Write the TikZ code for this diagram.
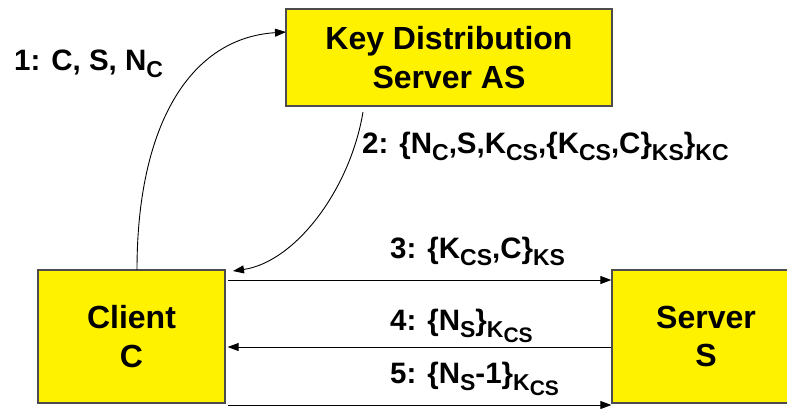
\documentclass[tikz,border=0pt]{standalone}
\usepackage{fontspec}
\setmainfont{Liberation Sans}
\usetikzlibrary{arrows.meta}
\newcommand\sbx[1]{\raisebox{-7pt}{\fontsize{23}{23}\selectfont #1}}
\newcommand\ssbx[1]{\raisebox{-5pt}{\fontsize{21}{21}\selectfont #1}}
\begin{document}
\begin{tikzpicture}[x=1pt,y=-1pt,
  box/.style={draw=black!70,line width=1.3pt,fill=yellow,inner sep=0pt,
    font=\bfseries\fontsize{32}{38.5}\selectfont,align=center},
  lbl/.style={inner sep=0pt,font=\bfseries\fontsize{29.5}{29.5}\selectfont},
  arr/.style={line width=0.9pt,-{Triangle[length=11pt,width=8pt]}}]
\useasboundingbox (0,0) rectangle (787,408);
\node[box,minimum width=326pt,minimum height=97pt] (kds) at (449,57.5) {Key Distribution\\Server AS};
\node[box,minimum width=187pt,minimum height=133pt] (client) at (131.5,336.5) {Client\\C};
\node[box,minimum width=188pt,minimum height=133pt] (server) at (706,336.5) {Server\\S};
\coordinate (y3) at (0,280);
\coordinate (y4) at (0,347);
\coordinate (y5) at (0,405);
\coordinate (c1) at (137,270);
\coordinate (k1) at (286,32);
\coordinate (k2) at (363,112);
\coordinate (c2) at (233,271);
\draw[arr] (c1) .. controls (137,125) and (190,38) .. (k1);
\draw[arr] (k2) .. controls (350,190) and (295,262) .. (c2);
\draw[arr] ([xshift=2pt]client.east |- y3) -- (server.west |- y3);
\draw[arr] (server.west |- y4) -- ([xshift=2pt]client.east |- y4);
\draw[arr] ([xshift=2pt]client.east |- y5) -- (server.west |- y5);
\node[lbl,anchor=base west] (l1) at (14,70) {1: C, S, N\sbx{C}};
\node[lbl,anchor=base west] (l2) at (362,153) {2: \{N\sbx{C},S,K\sbx{CS},\{K\sbx{CS},C\}\sbx{KS}\}\sbx{KC}};
\node[lbl,anchor=base west] (l3) at (390,258) {3: \{K\sbx{CS},C\}\sbx{KS}};
\node[lbl,anchor=base west] (l4) at (390,330) {4: \{N\sbx{S}\}\sbx{K\ssbx{CS}}};
\node[lbl,anchor=base west] (l5) at (390,383) {5: \{N\sbx{S}-1\}\sbx{K\ssbx{CS}}};
\end{tikzpicture}
\end{document}
